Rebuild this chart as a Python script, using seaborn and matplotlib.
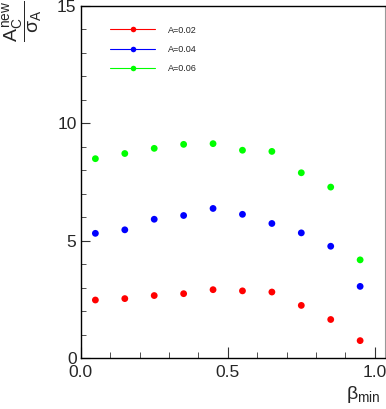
import numpy as np
import pandas as pd
import matplotlib
matplotlib.use('Agg')
import matplotlib.pyplot as plt
import seaborn as sns
from matplotlib.lines import Line2D
from matplotlib.ticker import MultipleLocator, FormatStrFormatter

beta_min = [0.05, 0.15, 0.25, 0.35, 0.45, 0.55, 0.65, 0.75, 0.85, 0.95]
a002 = [2.47, 2.53, 2.66, 2.74, 2.91, 2.86, 2.81, 2.24, 1.64, 0.74]
a004 = [5.31, 5.46, 5.91, 6.07, 6.37, 6.12, 5.73, 5.33, 4.76, 3.05]
a006 = [8.49, 8.71, 8.93, 9.10, 9.13, 8.85, 8.80, 7.89, 7.28, 4.18]
labels = ['A=0.02', 'A=0.04', 'A=0.06']
colors = ['#ff0000', '#0000ff', '#00ff00']

df = pd.DataFrame({
    'beta': beta_min * 3,
    'val': a002 + a004 + a006,
    'series': [labels[0]] * 10 + [labels[1]] * 10 + [labels[2]] * 10,
})

sns.set_style('ticks')
plt.rcParams['font.family'] = ['Liberation Sans', 'DejaVu Sans']
plt.rcParams['mathtext.fontset'] = 'custom'
plt.rcParams['mathtext.rm'] = 'Liberation Sans'
plt.rcParams['mathtext.it'] = 'Liberation Sans'

fig = plt.figure(figsize=(3.86, 4.09), dpi=100)
ax = fig.add_axes([0.209, 0.1247, 0.788, 0.861])

sns.scatterplot(data=df, x='beta', y='val', hue='series', palette=colors,
                s=24, edgecolor='none', legend=False, ax=ax)

ax.set_xlim(0, 1.034)
ax.set_ylim(0, 15)
ax.xaxis.set_major_locator(MultipleLocator(0.5))
ax.xaxis.set_minor_locator(MultipleLocator(0.1))
ax.yaxis.set_major_locator(MultipleLocator(5))
ax.yaxis.set_minor_locator(MultipleLocator(1))
ax.xaxis.set_major_formatter(FormatStrFormatter('%.1f'))
ax.yaxis.set_major_formatter(FormatStrFormatter('%d'))
ax.tick_params(which='both', direction='in', labelsize=12.5, color='#333333')
ax.tick_params(axis='x', which='major', length=8, width=0.8, pad=5)
ax.tick_params(axis='x', which='minor', length=4, width=0.6)
ax.tick_params(axis='y', which='major', length=6.5, width=0.8, pad=3)
ax.tick_params(axis='y', which='minor', length=3.3, width=0.6)
for s in ['left', 'bottom', 'top']:
    ax.spines[s].set_color('black')
    ax.spines[s].set_linewidth(1)
ax.spines['right'].set_color('#999999')

ax.set_xlabel(r'$\beta_{\mathrm{min}}$', fontsize=14)
ax.xaxis.set_label_coords(0.93, -0.075)
ax.set_ylabel('')

# rotated fraction title in the top-left corner
fig.text(0.06, 1.0, r'$\dfrac{A_C^{new}}{\sigma_A}$', rotation=90,
         ha='center', va='top', fontsize=14)

handles = [Line2D([0], [0], color=c, lw=0.8, marker='o', markersize=4,
                  markeredgecolor='none') for c in colors]
ax.legend(handles, labels, loc='upper left', bbox_to_anchor=(0.098, 0.944),
          frameon=False, fontsize=6.5, handlelength=4.9, handletextpad=1.5,
          labelspacing=1.15, borderpad=0, borderaxespad=0)

plt.savefig('out.png', dpi=100)
